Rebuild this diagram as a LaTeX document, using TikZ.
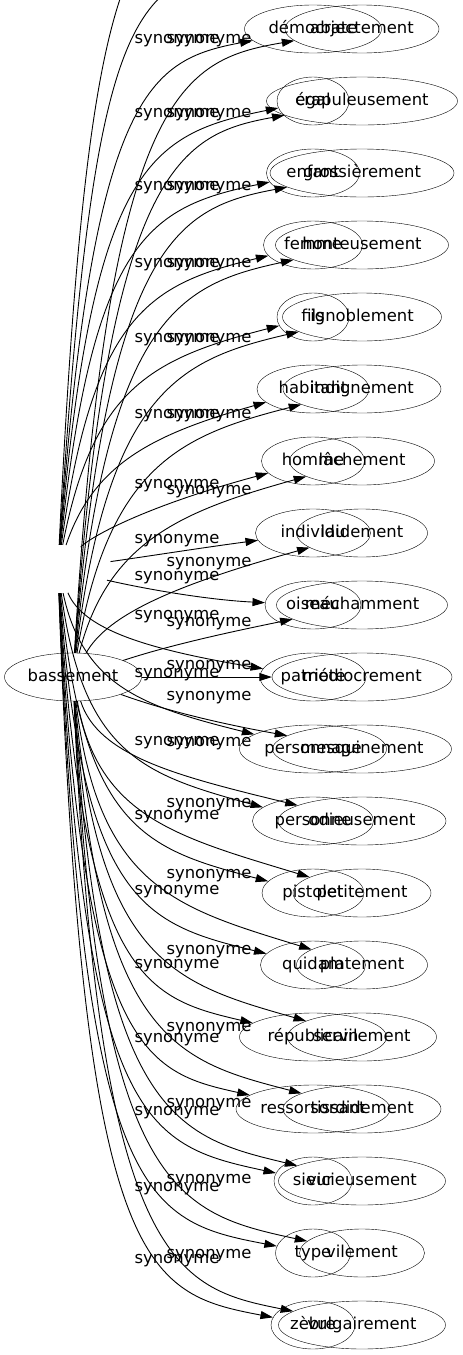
\documentclass[tikz,border=0pt]{standalone}
\usepackage{fontspec}
\setmainfont{DejaVu Sans}
\usetikzlibrary{arrows.meta, shapes.geometric}
\tikzset{%
	term/.style={
		ellipse,
		draw,
		minimum height=48pt,
		inner sep=0pt,
		text height=11.5pt,
		text depth=3.5pt,
		font=\fontsize{16.4}{19}\selectfont
	},
	hidden term/.style={
		ellipse,
		draw=none,
		minimum width=110pt,
		minimum height=48pt,
		inner sep=0pt
	},
	syn label/.style={
		inner sep=0pt,
		text height=11.5pt,
		text depth=3.5pt,
		font=\fontsize{16.4}{19}\selectfont
	},
	syn arrow/.style={
		-{Triangle[length=12.5pt, width=8pt]},
		line width=0.9pt
	},
}
\begin{document}
\begin{tikzpicture}[x=1pt, y=-1pt]
	\useasboundingbox (0,0) rectangle (463,1355);
	\clip (0,0) rectangle (463,1355);

	% centre of the second graph (not drawn) and bassement
	\node[hidden term] (hub) at (58,569) {};
	\node[term, minimum width=137pt] (bass) at (73,677) {bassement};

	% first column
	\node[term, minimum width=137pt] (demo) at (313,29) {démocrate};
	\node[term, minimum width=72pt] (egal) at (313,101) {égal};
	\node[term, minimum width=93pt] (enfant) at (313,173) {enfant};
	\node[term, minimum width=99pt] (femme) at (313,245) {femme};
	\node[term, minimum width=72pt] (fils) at (313,317) {fils};
	\node[term, minimum width=112pt] (habitant) at (313,389) {habitant};
	\node[term, minimum width=103pt] (homme) at (313,461) {homme};
	\node[term, minimum width=115pt] (individu) at (313,533) {individu};
	\node[term, minimum width=96pt] (oiseau) at (313,605) {oiseau};
	\node[term, minimum width=106pt] (patriote) at (313,677) {patriote};
	\node[term, minimum width=147pt] (personnage) at (313,749) {personnage};
	\node[term, minimum width=121pt] (personne) at (313,821) {personne};
	\node[term, minimum width=102pt] (pistolet) at (313,893) {pistolet};
	\node[term, minimum width=105pt] (quidam) at (313,965) {quidam};
	\node[term, minimum width=147pt] (republicain) at (313,1037) {républicain};
	\node[term, minimum width=154pt] (ressortissant) at (313,1109) {ressortissant};
	\node[term, minimum width=78pt] (sieur) at (313,1181) {sieur};
	\node[term, minimum width=75pt] (type) at (313,1253) {type};
	\node[term, minimum width=84pt] (zebre) at (313,1325) {zèbre};

	% second column
	\node[term, minimum width=154pt] (abject) at (362,29) {abjectement};
	\node[term, minimum width=191pt] (crapul) at (362,101) {crapuleusement};
	\node[term, minimum width=184pt] (gross) at (362,173) {grossièrement};
	\node[term, minimum width=173pt] (honte) at (362,245) {honteusement};
	\node[term, minimum width=159pt] (ignob) at (362,317) {ignoblement};
	\node[term, minimum width=158pt] (indign) at (362,389) {indignement};
	\node[term, minimum width=145pt] (lache) at (362,461) {lâchement};
	\node[term, minimum width=131pt] (laid) at (362,533) {laidement};
	\node[term, minimum width=171pt] (mechant) at (362,605) {méchamment};
	\node[term, minimum width=180pt] (medio) at (362,677) {médiocrement};
	\node[term, minimum width=179pt] (mesquin) at (362,749) {mesquinement};
	\node[term, minimum width=168pt] (odieux) at (362,821) {odieusement};
	\node[term, minimum width=138pt] (petit) at (362,893) {petitement};
	\node[term, minimum width=131pt] (plat) at (362,965) {platement};
	\node[term, minimum width=149pt] (servil) at (362,1037) {servilement};
	\node[term, minimum width=158pt] (sordid) at (362,1109) {sordidement};
	\node[term, minimum width=167pt] (vicieux) at (362,1181) {vicieusement};
	\node[term, minimum width=125pt] (vil) at (362,1253) {vilement};
	\node[term, minimum width=167pt] (vulgaire) at (362,1325) {vulgairement};

	% labels of the hub edges
	\node[syn label] (lb1) at (177,39) {synonyme};
	\node[syn label] (lb2) at (177,113) {synonyme};
	\node[syn label] (lb3) at (177,186) {synonyme};
	\node[syn label] (lb4) at (177,263) {synonyme};
	\node[syn label] (lb5) at (177,338) {synonyme};
	\node[syn label] (lb6) at (177,414) {synonyme};
	\node[syn label] (lb7) at (177,484) {synonyme};
	\node[syn label] (lb8) at (177,539) {synonyme};
	\node[syn label] (lb9) at (177,576) {synonyme};
	\node[syn label] (lb10) at (177,615) {synonyme};
	\node[syn label] (lb11) at (177,673) {synonyme};
	\node[syn label] (lb12) at (177,741) {synonyme};
	\node[syn label] (lb13) at (177,815) {synonyme};
	\node[syn label] (lb14) at (177,890) {synonyme};
	\node[syn label] (lb15) at (177,964) {synonyme};
	\node[syn label] (lb16) at (177,1038) {synonyme};
	\node[syn label] (lb17) at (177,1111) {synonyme};
	\node[syn label] (lb18) at (177,1187) {synonyme};
	\node[syn label] (lb19) at (177,1259) {synonyme};

	% labels of the bassement edges
	\node[syn label] (la1) at (209,39) {synonyme};
	\node[syn label] (la2) at (209,113) {synonyme};
	\node[syn label] (la3) at (209,186) {synonyme};
	\node[syn label] (la4) at (209,263) {synonyme};
	\node[syn label] (la5) at (209,338) {synonyme};
	\node[syn label] (la6) at (209,414) {synonyme};
	\node[syn label] (la7) at (209,490) {synonyme};
	\node[syn label] (la8) at (209,562) {synonyme};
	\node[syn label] (la9) at (209,622) {synonyme};
	\node[syn label] (la10) at (209,665) {synonyme};
	\node[syn label] (la11) at (209,696) {synonyme};
	\node[syn label] (la12) at (209,742) {synonyme};
	\node[syn label] (la13) at (209,803) {synonyme};
	\node[syn label] (la14) at (209,874) {synonyme};
	\node[syn label] (la15) at (209,950) {synonyme};
	\node[syn label] (la16) at (209,1027) {synonyme};
	\node[syn label] (la17) at (209,1103) {synonyme};
	\node[syn label] (la18) at (209,1179) {synonyme};
	\node[syn label] (la19) at (209,1254) {synonyme};

	% hub edges, two of them leave the picture at the top
	\coordinate (offA) at (250,-43);
	\coordinate (offB) at (250,-115);
	\draw[syn arrow] (hub) .. controls (88,-54) and (130,-84) .. (offB);
	\draw[syn arrow] (hub) .. controls (93,18) and (130,-12) .. (offA);
	\draw[syn arrow] (hub) .. controls (93,90) and (150,60) .. (demo);
	\draw[syn arrow] (hub) .. controls (93,164) and (150,134) .. (egal);
	\draw[syn arrow] (hub) .. controls (93,237) and (150,207) .. (enfant);
	\draw[syn arrow] (hub) .. controls (93,314) and (150,284) .. (femme);
	\draw[syn arrow] (hub) .. controls (93,389) and (150,359) .. (fils);
	\draw[syn arrow] (hub) .. controls (93,465) and (150,435) .. (habitant);
	\draw[syn arrow] (hub) .. controls (93,535) and (150,505) .. (homme);
	\draw[syn arrow] (hub) .. controls (150,556) and (200,548) .. (individu);
	\draw[syn arrow] (hub) .. controls (150,590) and (210,600) .. (oiseau);
	\draw[syn arrow] (hub) .. controls (83,629) and (145,649) .. (patriote);
	\draw[syn arrow] (hub) .. controls (83,687) and (145,707) .. (personnage);
	\draw[syn arrow] (hub) .. controls (83,755) and (145,775) .. (personne);
	\draw[syn arrow] (hub) .. controls (83,829) and (145,849) .. (pistolet);
	\draw[syn arrow] (hub) .. controls (83,904) and (145,924) .. (quidam);
	\draw[syn arrow] (hub) .. controls (83,978) and (145,998) .. (republicain);
	\draw[syn arrow] (hub) .. controls (83,1052) and (145,1072) .. (ressortissant);
	\draw[syn arrow] (hub) .. controls (83,1125) and (145,1145) .. (sieur);
	\draw[syn arrow] (hub) .. controls (83,1201) and (145,1221) .. (type);
	\draw[syn arrow] (hub) .. controls (83,1273) and (145,1293) .. (zebre);

	% bassement edges
	\draw[syn arrow] (bass) .. controls (108,90) and (182,60) .. (abject);
	\draw[syn arrow] (bass) .. controls (108,164) and (182,134) .. (crapul);
	\draw[syn arrow] (bass) .. controls (108,237) and (182,207) .. (gross);
	\draw[syn arrow] (bass) .. controls (108,314) and (182,284) .. (honte);
	\draw[syn arrow] (bass) .. controls (108,389) and (182,359) .. (ignob);
	\draw[syn arrow] (bass) .. controls (108,465) and (182,435) .. (indign);
	\draw[syn arrow] (bass) .. controls (108,541) and (182,511) .. (lache);
	\draw[syn arrow] (bass) .. controls (108,613) and (182,583) .. (laid);
	\draw[syn arrow] (bass) .. controls (170,645) and (230,632) .. (mechant);
	\draw[syn arrow] (bass) -- (medio);
	\draw[syn arrow] (bass) .. controls (150,705) and (200,720) .. (mesquin);
	\draw[syn arrow] (bass) .. controls (98,756) and (177,776) .. (odieux);
	\draw[syn arrow] (bass) .. controls (98,817) and (177,837) .. (petit);
	\draw[syn arrow] (bass) .. controls (98,888) and (177,908) .. (plat);
	\draw[syn arrow] (bass) .. controls (98,964) and (177,984) .. (servil);
	\draw[syn arrow] (bass) .. controls (98,1041) and (177,1061) .. (sordid);
	\draw[syn arrow] (bass) .. controls (98,1117) and (177,1137) .. (vicieux);
	\draw[syn arrow] (bass) .. controls (98,1193) and (177,1213) .. (vil);
	\draw[syn arrow] (bass) .. controls (98,1268) and (177,1288) .. (vulgaire);
\end{tikzpicture}
\end{document}
